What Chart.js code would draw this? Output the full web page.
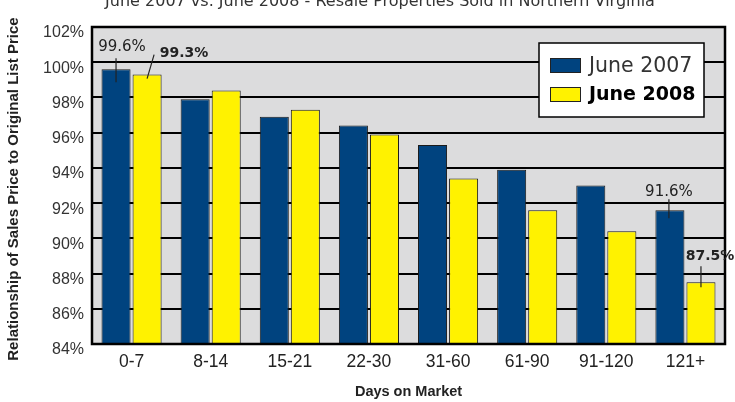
<!DOCTYPE html>
<html><head><meta charset="utf-8">
<script src="https://cdn.jsdelivr.net/npm/chart.js@4/dist/chart.umd.min.js"></script>
<style>html,body{margin:0;padding:0;background:#fff;overflow:hidden}canvas{display:block}</style>
</head><body>
<canvas id="c" width="735" height="402"></canvas>
<script>
const categories = ['0-7', '8-14', '15-21', '22-30', '31-60', '61-90', '91-120', '121+'];
const seriesNames = ['June 2007', 'June 2008'];
const june2007 = [99.6, 97.9, 96.9, 96.4, 95.3, 93.9, 93.0, 91.6];
const june2008 = [99.3, 98.4, 97.3, 95.9, 93.4, 91.6, 90.4, 87.5];
const yMin = 84, yMax = 102, yStep = 2;
const titleText = 'June 2007 vs. June 2008 - Resale Properties Sold in Northern Virginia';
const xTitle = 'Days on Market';
const yTitle = 'Relationship of Sales Price to Original List Price';
// bars that carry a value callout: [datasetIndex, dataIndex]
const callouts = [[0, 0], [1, 0], [0, 7], [1, 7]];

const BLUE = '#00437f', YELLOW = '#fff200', TXT = '#222';
const calloutStyle = [
  {bold: false, tdx: 6, tdy: -22, l: [0, -11, 0, 13]},
  {bold: true, tdx: 37, tdy: -21, l: [0, 4, 7, -20]},
  {bold: false, tdx: -1, tdy: -18, l: [-1, -11, -1, 8]},
  {bold: true, tdx: 9, tdy: -26, l: [0, -16, 0, 5]}
];

const deco = {
  id: 'deco',
  beforeDraw(chart) {
    const a = chart.chartArea, ctx = chart.ctx;
    ctx.save();
    ctx.fillStyle = '#dcdcdd';
    ctx.fillRect(a.left, a.top, a.right - a.left, a.bottom - a.top);
    ctx.restore();
  },
  afterDatasetsDraw(chart) {
    const a = chart.chartArea, ctx = chart.ctx;
    ctx.save();
    ctx.strokeStyle = '#000';
    ctx.lineWidth = 2.5;
    ctx.strokeRect(a.left, a.top, a.right - a.left, a.bottom - a.top);
    callouts.forEach((c, i) => {
      const st = calloutStyle[i];
      const el = chart.getDatasetMeta(c[0]).data[c[1]];
      const v = chart.data.datasets[c[0]].data[c[1]];
      ctx.strokeStyle = '#222';
      ctx.lineWidth = 1.2;
      ctx.beginPath();
      ctx.moveTo(el.x + st.l[0], el.y + st.l[1]);
      ctx.lineTo(el.x + st.l[2], el.y + st.l[3]);
      ctx.stroke();
      ctx.font = (st.bold ? 'bold 14px ' : '15px ') + '"DejaVu Sans"';
      ctx.fillStyle = TXT;
      ctx.textAlign = 'center';
      ctx.textBaseline = 'middle';
      ctx.fillText(v.toFixed(1) + '%', el.x + st.tdx, el.y + st.tdy);
    });
    ctx.restore();
  },
  afterDraw(chart) {
    const a = chart.chartArea, ctx = chart.ctx;
    ctx.save();
    ctx.fillStyle = '#333';
    ctx.font = '16px "DejaVu Sans"';
    ctx.textAlign = 'center';
    ctx.textBaseline = 'alphabetic';
    ctx.fillText(titleText, 380, 6);
    ctx.fillStyle = TXT;
    ctx.font = 'bold 14.5px "Liberation Sans"';
    ctx.textBaseline = 'middle';
    ctx.fillText(xTitle, (a.left + a.right) / 2, 392);
    ctx.save();
    ctx.translate(14, 189);
    ctx.rotate(-Math.PI / 2);
    ctx.font = 'bold 15px "Liberation Sans"';
    ctx.fillText(yTitle, 0, 0);
    ctx.restore();
    const lx = 539, ly = 43, lw = 165, lh = 74;
    ctx.fillStyle = '#fff';
    ctx.fillRect(lx, ly, lw, lh);
    ctx.strokeStyle = '#000';
    ctx.lineWidth = 1.5;
    ctx.strokeRect(lx, ly, lw, lh);
    const cols = [BLUE, YELLOW];
    seriesNames.forEach((n, i) => {
      const y = ly + 15 + i * 29;
      ctx.fillStyle = cols[i];
      ctx.fillRect(lx + 11, y, 31, 15);
      ctx.strokeStyle = '#222';
      ctx.lineWidth = 1;
      ctx.strokeRect(lx + 11.5, y + 0.5, 30, 14);
      ctx.fillStyle = i === 0 ? '#333' : '#000';
      ctx.font = (i === 0 ? '20.5px ' : 'bold 19px ') + '"DejaVu Sans"';
      ctx.textAlign = 'left';
      ctx.textBaseline = 'middle';
      ctx.fillText(n, lx + 50, y + 8.5);
    });
    ctx.restore();
  }
};

new Chart(document.getElementById('c'), {
  type: 'bar',
  data: {
    labels: categories,
    datasets: [
      {label: seriesNames[0], data: june2007, backgroundColor: BLUE, borderColor: '#1a1a1a', borderWidth: 1,
       categoryPercentage: 0.785, barPercentage: 0.935},
      {label: seriesNames[1], data: june2008, backgroundColor: YELLOW, borderColor: '#1a1a1a', borderWidth: 1,
       categoryPercentage: 0.785, barPercentage: 0.935}
    ]
  },
  options: {
    responsive: false,
    animation: false,
    devicePixelRatio: 1,
    layout: {padding: {left: 0, right: 10, top: 27, bottom: 0}},
    plugins: {legend: {display: false}, tooltip: {enabled: false}, title: {display: false}},
    scales: {
      x: {
        grid: {display: false, drawTicks: false},
        border: {display: false},
        ticks: {color: TXT, font: {family: 'Liberation Sans', size: 17.5}, padding: 8, maxRotation: 0},
        afterFit(s) { s.height = 58; }
      },
      y: {
        min: yMin, max: yMax,
        grid: {color: '#000', lineWidth: 2, drawTicks: false},
        border: {display: false},
        ticks: {stepSize: yStep, color: '#333', font: {family: 'Liberation Sans', size: 16}, padding: 8,
                labelOffset: 6, callback: v => v + '%'},
        afterFit(s) { s.width = 92; }
      }
    }
  },
  plugins: [deco]
});
</script>
</body></html>
